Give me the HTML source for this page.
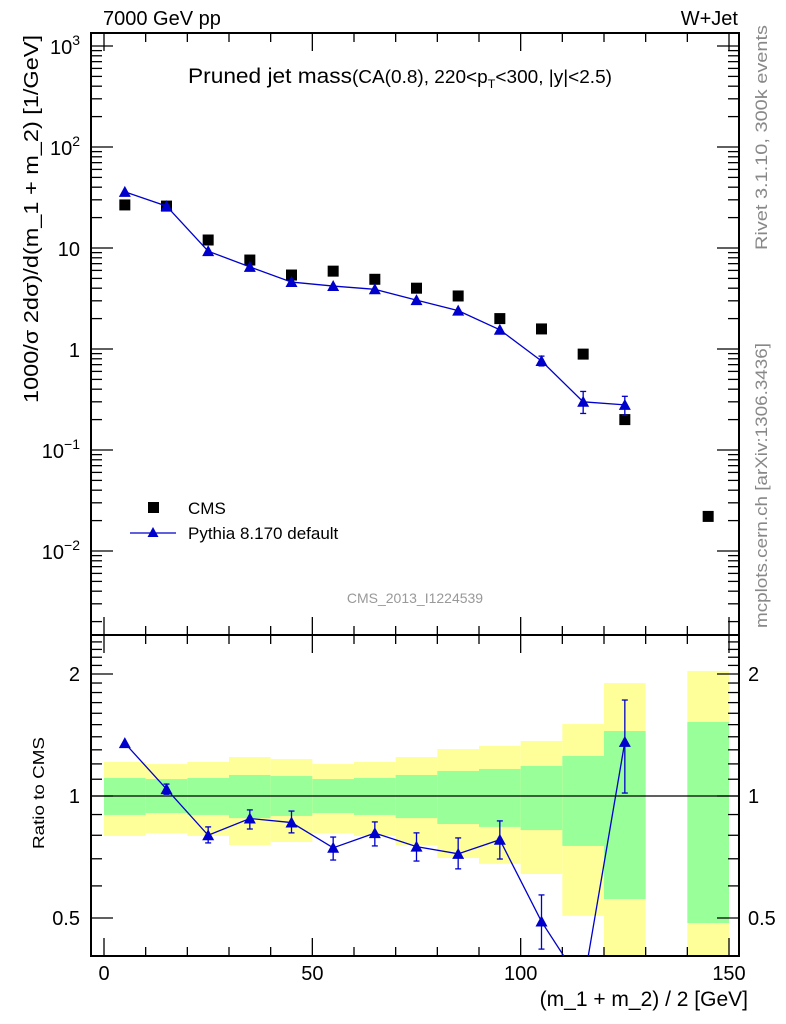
<!DOCTYPE html>
<html><head><meta charset="utf-8"><style>
html,body{margin:0;padding:0;background:#fff;}
svg{display:block;font-family:"Liberation Sans",sans-serif;}
</style></head><body>
<svg id="chart" width="786" height="1024" viewBox="0 0 786 1024" xmlns="http://www.w3.org/2000/svg">
<g id="bands"></g>
<g id="grid"></g>
<g id="marks"></g>
<text x="103" y="25" font-size="20">7000 GeV pp</text>
<text x="738" y="25" font-size="20" text-anchor="end">W+Jet</text>
<text x="188" y="83" font-size="21.5" textLength="424" lengthAdjust="spacingAndGlyphs">Pruned jet mass<tspan font-size="18">(CA(0.8), 220&lt;p<tspan font-size="12" dy="5">T</tspan><tspan dy="-5">&lt;300, |y|&lt;2.5)</tspan></tspan></text>
<text transform="translate(38,219) rotate(-90)" font-size="20" text-anchor="middle" textLength="368" lengthAdjust="spacingAndGlyphs">1000/σ 2dσ)/d(m_1 + m_2) [1/GeV]</text>
<text transform="translate(44,793) rotate(-90)" font-size="16" text-anchor="middle" textLength="112" lengthAdjust="spacingAndGlyphs">Ratio to CMS</text>
<text x="748" y="1006" font-size="21" text-anchor="end">(m_1 + m_2) / 2 [GeV]</text>
<text transform="translate(767,250) rotate(-90)" font-size="17" fill="#888" textLength="225" lengthAdjust="spacingAndGlyphs">Rivet 3.1.10,  300k events</text>
<text transform="translate(767,628) rotate(-90)" font-size="17" fill="#888" textLength="285" lengthAdjust="spacingAndGlyphs">mcplots.cern.ch [arXiv:1306.3436]</text>
<text x="415" y="603" font-size="14" fill="#999" text-anchor="middle">CMS_2013_I1224539</text>
<g>
<rect x="148" y="502" width="11" height="11" fill="#000"></rect>
<text x="188" y="514" font-size="17">CMS</text>
<line x1="130" y1="533" x2="176" y2="533" stroke="#00c" stroke-width="1.3"></line>
<polygon points="153,527 147.5,537 158.5,537" fill="#00c"></polygon>
<text x="188" y="539" font-size="17">Pythia 8.170 default</text>
</g>
</svg>
<script>
const xCenters=[5,15,25,35,45,55,65,75,85,95,105,115,125,145];
const cmsValues=[26.7,26,12,7.6,5.4,5.9,4.9,4.0,3.35,2.0,1.58,0.89,0.2,0.022];
const pyX=[5,15,25,35,45,55,65,75,85,95,105,115,125];
const pyValues=[36,26,9.3,6.5,4.6,4.2,3.9,3.05,2.4,1.55,0.76,0.30,0.28];
const pyErrLo=[35,25.5,9,6.3,4.45,4.05,3.75,2.9,2.25,1.45,0.68,0.23,0.22];
const pyErrHi=[37,26.5,9.6,6.7,4.75,4.35,4.05,3.2,2.55,1.65,0.85,0.38,0.34];
const ratioValues=[1.35,1.04,0.80,0.88,0.86,0.745,0.81,0.75,0.72,0.78,0.49,0.34,1.36];
const ratioErrLo=[1.34,1.01,0.766,0.829,0.811,0.695,0.753,0.691,0.661,0.699,0.419,0.3,1.017];
const ratioErrHi=[1.36,1.07,0.839,0.924,0.918,0.792,0.863,0.811,0.788,0.868,0.570,0.4,1.725];
const binLo=[0,10,20,30,40,50,60,70,80,90,100,110,120,140];
const binHi=[10,20,30,40,50,60,70,80,90,100,110,120,130,150];
const yellowHi=[1.213,1.199,1.213,1.248,1.234,1.199,1.213,1.248,1.306,1.329,1.367,1.505,1.900,2.035];
const greenHi=[1.108,1.101,1.108,1.127,1.120,1.101,1.108,1.127,1.153,1.166,1.186,1.255,1.447,1.523];
const greenLo=[0.898,0.908,0.898,0.882,0.893,0.908,0.898,0.882,0.853,0.839,0.824,0.753,0.557,0.486];
const yellowLo=[0.797,0.810,0.797,0.757,0.770,0.810,0.797,0.757,0.703,0.680,0.642,0.506,0.3,0.3];
const xTicks=[0,50,100,150];
const mainTicks=[-2,-1,0,1,2,3];
const ratioTicks=[0.5,1,2];

const NS='http://www.w3.org/2000/svg';
const L=91,R=739,T1=33,B1=635,B2=956;
const xs=v=>104+(v)*625/150;
const ym=v=>349-Math.log10(v)*101;
const yr=v=>Math.max(B1,Math.min(B2,796-Math.log2(v)*122));
const yrc=yr;
function el(tag,attrs,parent){const e=document.createElementNS(NS,tag);for(const k in attrs)e.setAttribute(k,attrs[k]);parent.appendChild(e);return e;}
const bands=document.getElementById('bands'),grid=document.getElementById('grid'),marks=document.getElementById('marks');

for(let i=0;i<binLo.length;i++){
  const x1=xs(binLo[i]),x2=xs(binHi[i]);
  let r=el('rect',{x:x1,y:yrc(yellowHi[i]),width:x2-x1,height:yrc(yellowLo[i])-yrc(yellowHi[i]),fill:'#ffff99'},bands);
  
  
  r=el('rect',{x:x1,y:yrc(greenHi[i]),width:x2-x1,height:yrc(greenLo[i])-yrc(greenHi[i]),fill:'#99ff99'},bands);
  
  
}
let one=el('line',{x1:L,x2:R,y1:796,y2:796,stroke:'#000','stroke-width':1.2},grid);


let f1=el('rect',{x:L,y:T1,width:R-L,height:B1-T1,fill:'none',stroke:'#000','stroke-width':2},grid);


let f2=el('rect',{x:L,y:B1,width:R-L,height:B2-B1,fill:'none',stroke:'#000','stroke-width':2},grid);


const tk={stroke:'#000','stroke-width':1.3};
for(let v=0;v<=150;v+=10){
  const x=xs(v),big=v%50===0,len=big?18:9;
  [[T1,1],[B1,-1],[B1,1],[B2,-1]].forEach(([y,d])=>el('line',Object.assign({x1:x,x2:x,y1:y,y2:y+d*len},tk),grid));
}
xTicks.forEach(v=>{const t=el('text',{x:xs(v),y:980,'font-size':20,'text-anchor':'middle'},grid);t.textContent=v;
 
 });
for(let d=-3;d<=3;d++){for(let m=1;m<10;m++){const v=m*Math.pow(10,d),y=ym(v);if(y<T1||y>B1)continue;const len=m===1?22:11;
 el('line',Object.assign({x1:L,x2:L+len,y1:y,y2:y},tk),grid);el('line',Object.assign({x1:R,x2:R-len,y1:y,y2:y},tk),grid);}}
mainTicks.forEach(d=>{const y=ym(Math.pow(10,d));const t=el('text',{x:80,y:y+8,'font-size':20,'text-anchor':'end'},grid);
 
 
 if(d===0)t.textContent='1';else if(d===1)t.textContent='10';else{t.textContent='10';const s=el('tspan',{'font-size':14,dy:-9},t);s.textContent=String(d).replace('-','\u2212');}});
for(let v=0.4;v<=2.6;v+=0.1){const y=796-Math.log2(v)*122;if(y<B1||y>B2)continue;const r=Math.round(v*10)/10;const big=(r===0.5||r===1||r===2);const len=big?22:11;
 el('line',Object.assign({x1:L,x2:L+len,y1:y,y2:y},tk),grid);el('line',Object.assign({x1:R,x2:R-len,y1:y,y2:y},tk),grid);}
ratioTicks.forEach(v=>{const y=yr(v);
 let t=el('text',{x:80,y:y+7,'font-size':20,'text-anchor':'end'},grid);t.textContent=v;
 
 
 t=el('text',{x:748,y:y+7,'font-size':20},grid);t.textContent=v;
 
 });
xCenters.forEach((x,i)=>{const r=el('rect',{x:xs(x)-5.5,y:ym(cmsValues[i])-5.5,width:11,height:11,fill:'#000'},marks);
 
 });
const blue='#00c';
function tri(x,y,g){return el('polygon',{points:`${x},${y-6} ${x-6},${y+5} ${x+6},${y+5}`,fill:blue},g);}
let pl=el('polyline',{points:pyX.map((x,i)=>xs(x)+','+ym(pyValues[i])).join(' '),fill:'none',stroke:blue,'stroke-width':1.3},marks);


pyX.forEach((x,i)=>{const X=xs(x);
 el('line',{x1:X,x2:X,y1:ym(pyErrLo[i]),y2:ym(pyErrHi[i]),stroke:blue,'stroke-width':1.3},marks);
 [pyErrLo[i],pyErrHi[i]].forEach(v=>{if(Math.abs(ym(pyErrLo[i])-ym(pyErrHi[i]))>8)el('line',{x1:X-3,x2:X+3,y1:ym(v),y2:ym(v),stroke:blue,'stroke-width':1.3},marks);});
 const p=tri(X,ym(pyValues[i]),marks);
 
 });
const cp=el('clipPath',{id:'rc'},marks);el('rect',{x:L,y:B1,width:R-L,height:B2-B1},cp);
const rg=el('g',{'clip-path':'url(#rc)'},marks);
let rl=el('polyline',{points:pyX.map((x,i)=>xs(x)+','+(796-Math.log2(ratioValues[i])*122)).join(' '),fill:'none',stroke:blue,'stroke-width':1.3},rg);


pyX.forEach((x,i)=>{const X=xs(x);const y1=yr(ratioErrLo[i]),y2=yr(ratioErrHi[i]);
 el('line',{x1:X,x2:X,y1:y1,y2:y2,stroke:blue,'stroke-width':1.3},rg);
 if(Math.abs(y1-y2)>6){el('line',{x1:X-3,x2:X+3,y1:y1,y2:y1,stroke:blue,'stroke-width':1.3},rg);el('line',{x1:X-3,x2:X+3,y1:y2,y2:y2,stroke:blue,'stroke-width':1.3},rg);}
 const p=tri(X,796-Math.log2(ratioValues[i])*122,rg);
 
 });
</script>
</body></html>
